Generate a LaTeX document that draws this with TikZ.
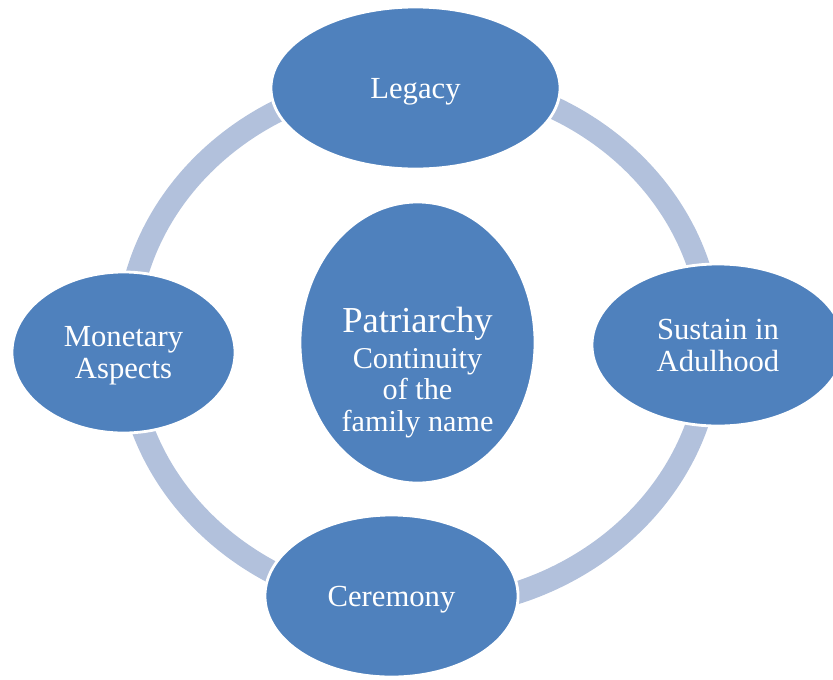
\documentclass[tikz,border=0pt]{standalone}
\usepackage{fontspec}
\setmainfont{Liberation Serif}
\usepackage{xcolor}
\usetikzlibrary{shapes.geometric}

\definecolor{bubbleblue}{HTML}{4F81BD}
\definecolor{ringblue}{HTML}{B2C1DC}

\begin{document}
\begin{tikzpicture}[x=0.025cm, y=-0.025cm,
    bubble/.style={ellipse, fill=bubbleblue, draw=white, line width=2pt, inner sep=0pt, text=white, align=center, text depth=0pt, font=\fontsize{21.8pt}{22.8pt}\selectfont},
    ring/.style={draw=ringblue, line width=16pt}]
    \useasboundingbox (0,0) rectangle (833,679);
    \clip (0,0) rectangle (833,679);
    \coordinate (O) at (419,343);
    % ring behind the bubbles
    \draw[ring] (O) ellipse [x radius=7.3cm, y radius=6.625cm];
    \node[bubble, minimum width=7.225cm, minimum height=4.05cm] (legacy) at (415.5,88) {Legacy};
    \node[bubble, minimum width=6.3cm, minimum height=4.05cm] (sustain) at (718,345) {Sustain in\\Adulhood};
    \node[bubble, minimum width=6.325cm, minimum height=4.05cm] (ceremony) at (391.5,596) {Ceremony};
    \node[bubble, minimum width=5.575cm, minimum height=4.025cm] (monetary) at (123.5,352.5) {Monetary\\Aspects};
    \node[bubble, minimum width=5.875cm, minimum height=7.025cm] (patriarchy) at (417.5,342.5) {};
    \node[text=white, align=center, inner sep=0pt, font=\fontsize{21.5pt}{22.6pt}\selectfont] (patriarchytext) at ([yshift=-0.76cm]patriarchy.center) {{\fontsize{26pt}{28pt}\selectfont Patriarchy}\\[2.4pt]Continuity\\of the\\family name};
\end{tikzpicture}
\end{document}
